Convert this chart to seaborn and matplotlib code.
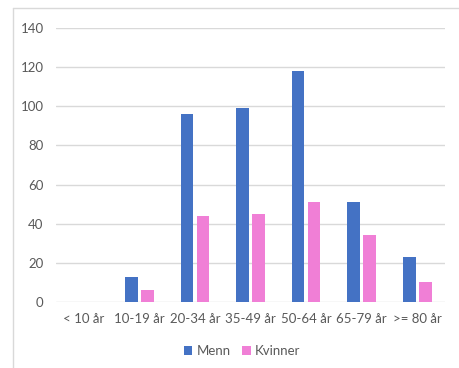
import matplotlib
matplotlib.use("Agg")
import matplotlib.pyplot as plt
from matplotlib.lines import Line2D
from matplotlib.patches import Patch
import seaborn as sns
import pandas as pd

categories = ["< 10 år", "10-19 år", "20-34 år", "35-49 år", "50-64 år", "65-79 år", ">= 80 år"]
menn = [0, 13, 96, 99, 118, 51, 23]
kvinner = [0, 6, 44, 45, 51, 34, 10]
series_names = ["Menn", "Kvinner"]
colors = ["#4472C4", "#F07FD6"]
y_ticks = [0, 20, 40, 60, 80, 100, 120, 140]

df = pd.DataFrame({
    "Aldersgruppe": categories * 2,
    "Antall": menn + kvinner,
    "Kjønn": [series_names[0]] * len(categories) + [series_names[1]] * len(categories),
})

sns.set_theme(style="white")
plt.rcParams["font.family"] = ["Lato", "DejaVu Sans"]

W, H = 460, 368
fig = plt.figure(figsize=(W / 100, H / 100), dpi=100)
ax = fig.add_axes([56 / W, 1 - 302 / H, (445 - 56) / W, 274 / H])

sns.barplot(data=df, x="Aldersgruppe", y="Antall", hue="Kjønn",
            palette=colors, saturation=1, width=0.576, gap=0.21, ax=ax,
            linewidth=0, errorbar=None, legend=True)

ax.set_ylim(0, 140)
ax.set_yticks(y_ticks)
ax.set_xlabel("")
ax.set_ylabel("")
ax.grid(axis="y", color="#D9D9D9", linewidth=1.0)
ax.set_axisbelow(True)
for s in ax.spines.values():
    s.set_visible(False)
ax.tick_params(axis="x", length=0, pad=8, labelsize=9.5, labelcolor="#595959")
ax.tick_params(axis="y", length=0, pad=9, labelsize=9.5, labelcolor="#595959")

ax.get_legend().remove()
handles = [Patch(facecolor=c, edgecolor="none") for c in colors]
fig.legend(handles, series_names, loc="center", bbox_to_anchor=(242 / W, 1 - 351 / H),
           ncol=2, frameon=False, fontsize=9.5, labelcolor="#595959",
           handlelength=0.65, handleheight=0.65, handletextpad=0.3, columnspacing=0.9)

# chart-area frame (top and left edges visible in the crop)
fig.add_artist(Line2D([13 / W, 13 / W], [0, 1 - 8 / H], transform=fig.transFigure,
                      color="#D9D9D9", linewidth=1.0))
fig.add_artist(Line2D([13 / W, 1], [1 - 8 / H, 1 - 8 / H], transform=fig.transFigure,
                      color="#D9D9D9", linewidth=1.0))

fig.savefig("out.png", dpi=100, facecolor="white")
